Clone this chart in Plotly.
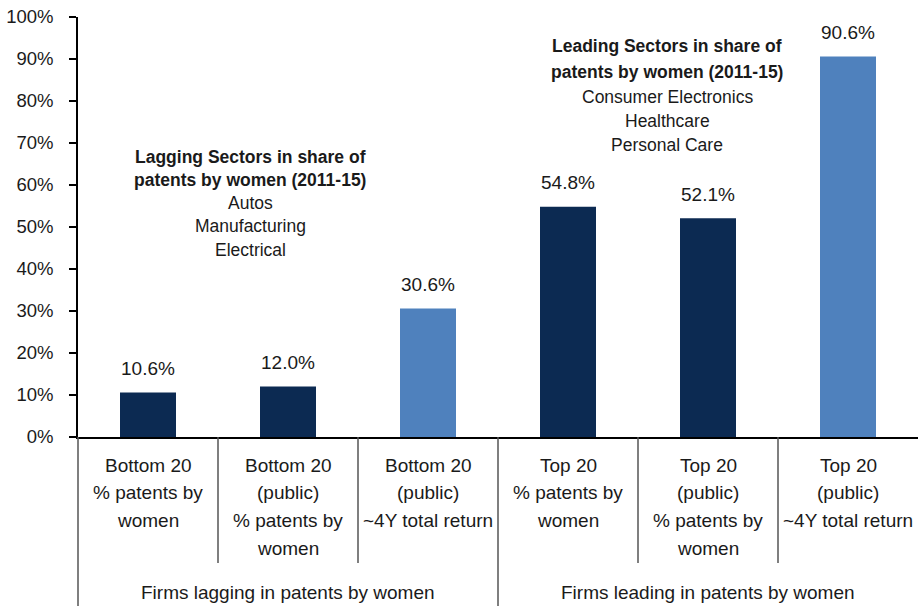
import plotly.graph_objects as go

categories = [
    ["Bottom 20", "% patents by", "women"],
    ["Bottom 20", "(public)", "% patents by", "women"],
    ["Bottom 20", "(public)", "~4Y total return"],
    ["Top 20", "% patents by", "women"],
    ["Top 20", "(public)", "% patents by", "women"],
    ["Top 20", "(public)", "~4Y total return"],
]
values = [10.6, 12.0, 30.6, 54.8, 52.1, 90.6]
bar_kind = ["patents", "patents", "return", "patents", "patents", "return"]
groups = ["Firms lagging in patents by women", "Firms leading in patents by women"]
lagging_note = ["Lagging Sectors in share of", "patents by women (2011-15)", "Autos", "Manufacturing", "Electrical"]
leading_note = ["Leading Sectors in share of", "patents by women (2011-15)", "Consumer Electronics", "Healthcare", "Personal Care"]
y_ticks = list(range(0, 101, 10))

DARK = "#0C2A52"
LIGHT = "#4F81BD"
FONT = "Liberation Sans, Arial, sans-serif"
TXT = "#1a1a1a"

colors = [DARK if k == "patents" else LIGHT for k in bar_kind]
xs = list(range(len(values)))

fig = go.Figure(go.Bar(x=xs, y=values, marker=dict(color=colors, line=dict(width=0)),
                       width=0.4, showlegend=False, hoverinfo="skip"))

ann = []
# value labels
for x, v in zip(xs, values):
    ann.append(dict(x=x, y=v, xref="x", yref="y", text=f"{v:.1f}%", showarrow=False,
                    yanchor="middle", yshift=24, font=dict(size=19, family=FONT, color=TXT)))
# category labels
for x, lines in zip(xs, categories):
    for j, t in enumerate(lines):
        ann.append(dict(x=x, y=0, xref="x", yref="paper", text=t, showarrow=False,
                        yanchor="middle", yshift=-28 - 27.7 * j,
                        font=dict(size=19, family=FONT, color=TXT)))
# group labels
for gi, g in enumerate(groups):
    ann.append(dict(x=1 + 3 * gi, y=0, xref="x", yref="paper", text=g, showarrow=False,
                    yanchor="middle", yshift=-155, font=dict(size=19, family=FONT, color=TXT)))
# sector notes
left_y = [66.7, 61.2, 55.7, 50.2, 44.6]
right_y = [93.1, 86.9, 81.0, 75.3, 69.5]
for i, t in enumerate(lagging_note):
    ann.append(dict(x=0.73, y=left_y[i], xref="x", yref="y",
                    text=f"<b>{t}</b>" if i < 2 else t, showarrow=False, yanchor="middle",
                    font=dict(size=17.5, family=FONT, color=TXT)))
for i, t in enumerate(leading_note):
    ann.append(dict(x=3.71, y=right_y[i], xref="x", yref="y",
                    text=f"<b>{t}</b>" if i < 2 else t, showarrow=False, yanchor="middle",
                    font=dict(size=17.5, family=FONT, color=TXT)))

# separators below the axis
shapes = []
n = len(values)
for k in range(n + 1):
    xp = k / n
    if k in (0, 3):
        y1 = -169 / 420
    elif k == n:
        continue
    else:
        y1 = -126 / 420
    shapes.append(dict(type="line", xref="paper", yref="paper", x0=xp, x1=xp, y0=0, y1=y1,
                       line=dict(color="#555555", width=1.5)))

fig.update_layout(
    width=918, height=606,
    margin=dict(l=78, r=0, t=17, b=169),
    plot_bgcolor="white", paper_bgcolor="white",
    bargap=0.6,
    annotations=ann, shapes=shapes,
    xaxis=dict(range=[-0.5, n - 0.5], showticklabels=False, showgrid=False, zeroline=False,
               showline=True, linecolor="#000000", linewidth=1.5, ticks=""),
    yaxis=dict(range=[0, 100], tickvals=y_ticks, ticktext=[f"{t}%" for t in y_ticks],
               showgrid=False, zeroline=False, showline=True, linecolor="#000000", linewidth=1.5,
               ticks="outside", ticklen=7, tickwidth=1.5, tickcolor="#000000",
               ticklabelstandoff=12,
               tickfont=dict(size=18.5, family=FONT, color=TXT)),
)

fig.write_html("out.html", config={"displayModeBar": False},
               post_script="document.body.style.margin='0';document.body.style.overflow='hidden';")
